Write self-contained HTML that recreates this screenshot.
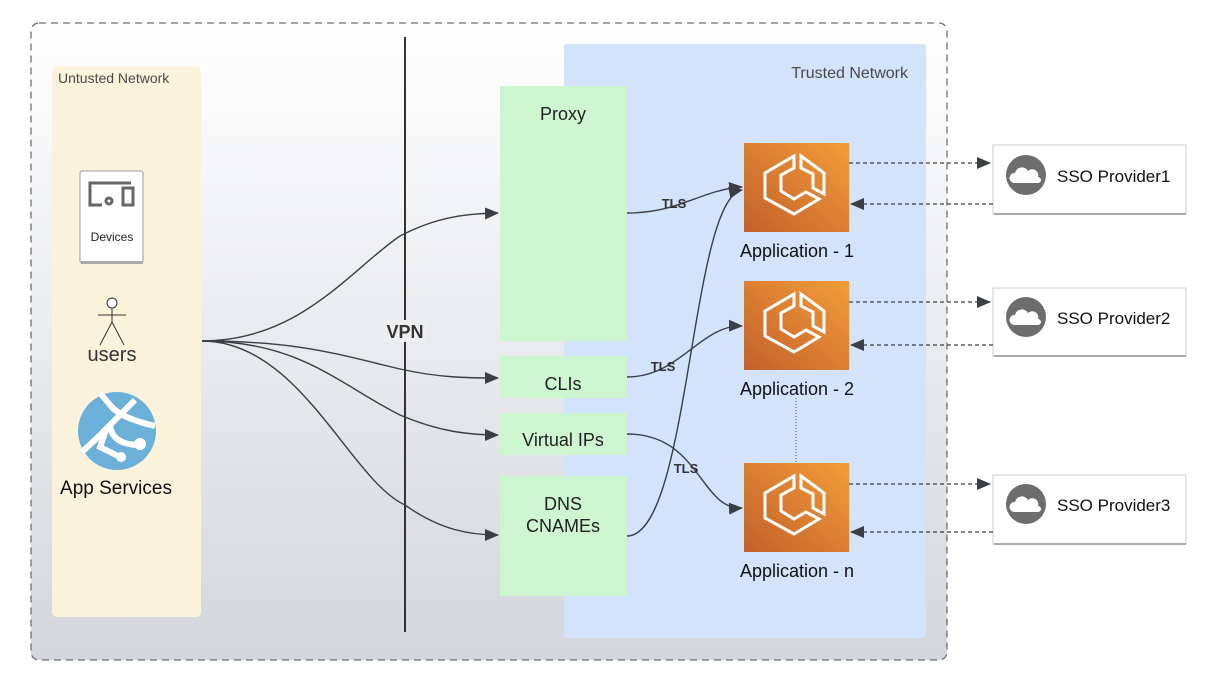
<!DOCTYPE html>
<html><head><style>
body{margin:0;width:1218px;height:694px;background:#fff;font-family:"Liberation Sans",sans-serif;overflow:hidden}
</style></head><body>
<svg width="1218" height="694" xmlns="http://www.w3.org/2000/svg" font-family="Liberation Sans, sans-serif">
<defs>
<linearGradient id="bg" x1="0" y1="0" x2="0" y2="1"><stop offset="0" stop-color="#ffffff"/><stop offset="1" stop-color="#d3d6dc"/></linearGradient>
<linearGradient id="og" x1="1" y1="0" x2="0" y2="1"><stop offset="0" stop-color="#f29d38"/><stop offset="1" stop-color="#c3602c"/></linearGradient>
<marker id="ar" markerWidth="14" markerHeight="12" refX="13" refY="6" orient="auto" markerUnits="userSpaceOnUse"><path d="M0,0 L14,6 L0,12 Z" fill="#3a3f47"/></marker>
<g id="ico" fill="none" stroke="#fff" stroke-width="3" stroke-linejoin="miter">
<path d="M50,13 L50,25 L37,32 L37,48 L50,56 L62,49 L75,56 L50,71 L21,55 L21,30 Z"/>
<path d="M57,13 L57,25 L69,31 L69,45 L80,51 L80,30 Z"/>
</g>
</defs>
<rect x="31" y="23" width="916" height="637" rx="8" fill="url(#bg)" stroke="#6b6f76" stroke-width="1.3" stroke-dasharray="7,5"/>
<rect x="52" y="66" width="149" height="551" rx="5" fill="#fbf2dc"/>
<text x="58" y="83" font-size="14" fill="#4a4a4a">Untusted Network</text>
<rect x="564" y="44" width="362" height="594" rx="3" fill="#d3e3fc"/>
<text x="908" y="78" font-size="16" fill="#4a4a4a" text-anchor="end">Trusted Network</text>
<!-- devices -->
<rect x="80" y="171" width="63" height="92" rx="2" fill="#fff" stroke="#999" stroke-width="1"/>
<rect x="81" y="261" width="62" height="3" fill="#aaa"/>
<g fill="none" stroke="#666" stroke-width="3"><path d="M131,183 H90 V205 H102"/><rect x="123" y="188" width="10" height="17"/><circle cx="109" cy="201" r="3"/></g>
<text x="112" y="241" font-size="12" fill="#222" text-anchor="middle">Devices</text>
<!-- user -->
<g stroke="#333" fill="none" stroke-width="1"><circle cx="112" cy="303" r="5" fill="#fff"/><path d="M112,308 V322 M98,315 H126 M112,322 L100,345 M112,322 L124,345"/></g>
<text x="112" y="361" font-size="20" fill="#333" text-anchor="middle">users</text>
<!-- app services -->
<circle cx="117" cy="431" r="39" fill="#6ab0d8"/>
<g stroke="#fff" stroke-width="6" fill="none"><path d="M100,393 L110,405 Q120,418 155,426"/><path d="M82,452 L95,440 L110,425 L135,400"/><path d="M110,425 Q112,445 140,445"/><path d="M106,430 L100,447 L120,457"/></g>
<circle cx="140" cy="444" r="6" fill="#fff"/><circle cx="121" cy="457" r="5" fill="#fff"/>
<text x="116" y="494" font-size="19" fill="#111" text-anchor="middle">App Services</text>
<!-- VPN line -->
<line x1="405" y1="37" x2="405" y2="632" stroke="#333" stroke-width="2"/>
<rect x="384" y="320" width="42" height="22" fill="#eceef0"/>
<text x="405" y="338" font-size="18" font-weight="bold" fill="#333" text-anchor="middle">VPN</text>
<!-- green boxes -->
<g fill="#cdf5d0"><rect x="500" y="86" width="127" height="255"/><rect x="500" y="356" width="127" height="42"/><rect x="500" y="413" width="127" height="42"/><rect x="500" y="476" width="127" height="120"/></g>
<g font-size="18" fill="#222" text-anchor="middle"><text x="563" y="120">Proxy</text><text x="563" y="390">CLIs</text><text x="563" y="446">Virtual IPs</text><text x="563" y="510">DNS</text><text x="563" y="532">CNAMEs</text></g>
<!-- curves from users -->
<g fill="none" stroke="#3a3f47" stroke-width="1.4" marker-end="url(#ar)">
<path d="M202,341 C300,341 350,270 400,236 C440,215 470,214 498,213"/>
<path d="M202,341 C300,341 340,355 400,369 C440,378 470,378 498,378"/>
<path d="M202,341 C300,341 340,385 400,415 C440,432 470,435 498,435"/>
<path d="M202,341 C300,341 350,480 405,505 C440,530 470,535 498,535"/>
</g>
<!-- apps -->
<g><rect x="744" y="143" width="105" height="89" fill="url(#og)"/><use href="#ico" x="744" y="143"/>
<rect x="744" y="281" width="105" height="89" fill="url(#og)"/><use href="#ico" x="744" y="281"/>
<rect x="744" y="463" width="105" height="89" fill="url(#og)"/><use href="#ico" x="744" y="463"/></g>
<g font-size="18" fill="#111" text-anchor="middle"><text x="797" y="257">Application - 1</text><text x="797" y="395">Application - 2</text><text x="797" y="577">Application - n</text></g>
<line x1="796" y1="398" x2="796" y2="463" stroke="#555" stroke-dasharray="1,2"/>
<!-- TLS curves -->
<g fill="none" stroke="#3a3f47" stroke-width="1.4" marker-end="url(#ar)">
<path d="M627,213 C680,213 700,190 742,187"/>
<path d="M627,377 C680,377 700,325 742,326"/>
<path d="M627,434 C700,434 700,510 742,508"/>
<path d="M627,536 C690,536 690,200 742,190"/>
</g>
<g font-size="13" font-weight="bold" fill="#333" text-anchor="middle"><text x="674" y="208">TLS</text><text x="663" y="371">TLS</text><text x="686" y="473">TLS</text></g>
<!-- SSO -->
<g fill="#fff" stroke="#ccc"><rect x="993" y="145" width="193" height="69"/><rect x="993" y="288" width="193" height="68"/><rect x="993" y="475" width="193" height="69"/></g>
<g fill="#aaa"><rect x="994" y="213" width="192" height="2"/><rect x="994" y="355" width="192" height="2"/><rect x="994" y="543" width="192" height="2"/></g>
<g><circle cx="1026" cy="175" r="20" fill="#6d6d6d"/><circle cx="1026" cy="317" r="20" fill="#6d6d6d"/><circle cx="1026" cy="504" r="20" fill="#6d6d6d"/></g>
<g fill="#fff"><path d="M1014,183 a5,5 0 0 1 1,-10 a7,7 0 0 1 13,-2 a6,6 0 0 1 10,6 a3,3 0 0 1 0,6 Z"/>
<path d="M1014,325 a5,5 0 0 1 1,-10 a7,7 0 0 1 13,-2 a6,6 0 0 1 10,6 a3,3 0 0 1 0,6 Z"/>
<path d="M1014,512 a5,5 0 0 1 1,-10 a7,7 0 0 1 13,-2 a6,6 0 0 1 10,6 a3,3 0 0 1 0,6 Z"/></g>
<g font-size="17" fill="#111"><text x="1057" y="182">SSO Provider1</text><text x="1057" y="324">SSO Provider2</text><text x="1057" y="511">SSO Provider3</text></g>
<g fill="none" stroke="#3a3f47" stroke-width="1.2" stroke-dasharray="4,3" marker-end="url(#ar)">
<path d="M849,163 H990"/><path d="M993,204 H851"/>
<path d="M849,302 H990"/><path d="M993,345 H851"/>
<path d="M849,484 H990"/><path d="M993,532 H851"/>
</g>
</svg>
</body></html>
